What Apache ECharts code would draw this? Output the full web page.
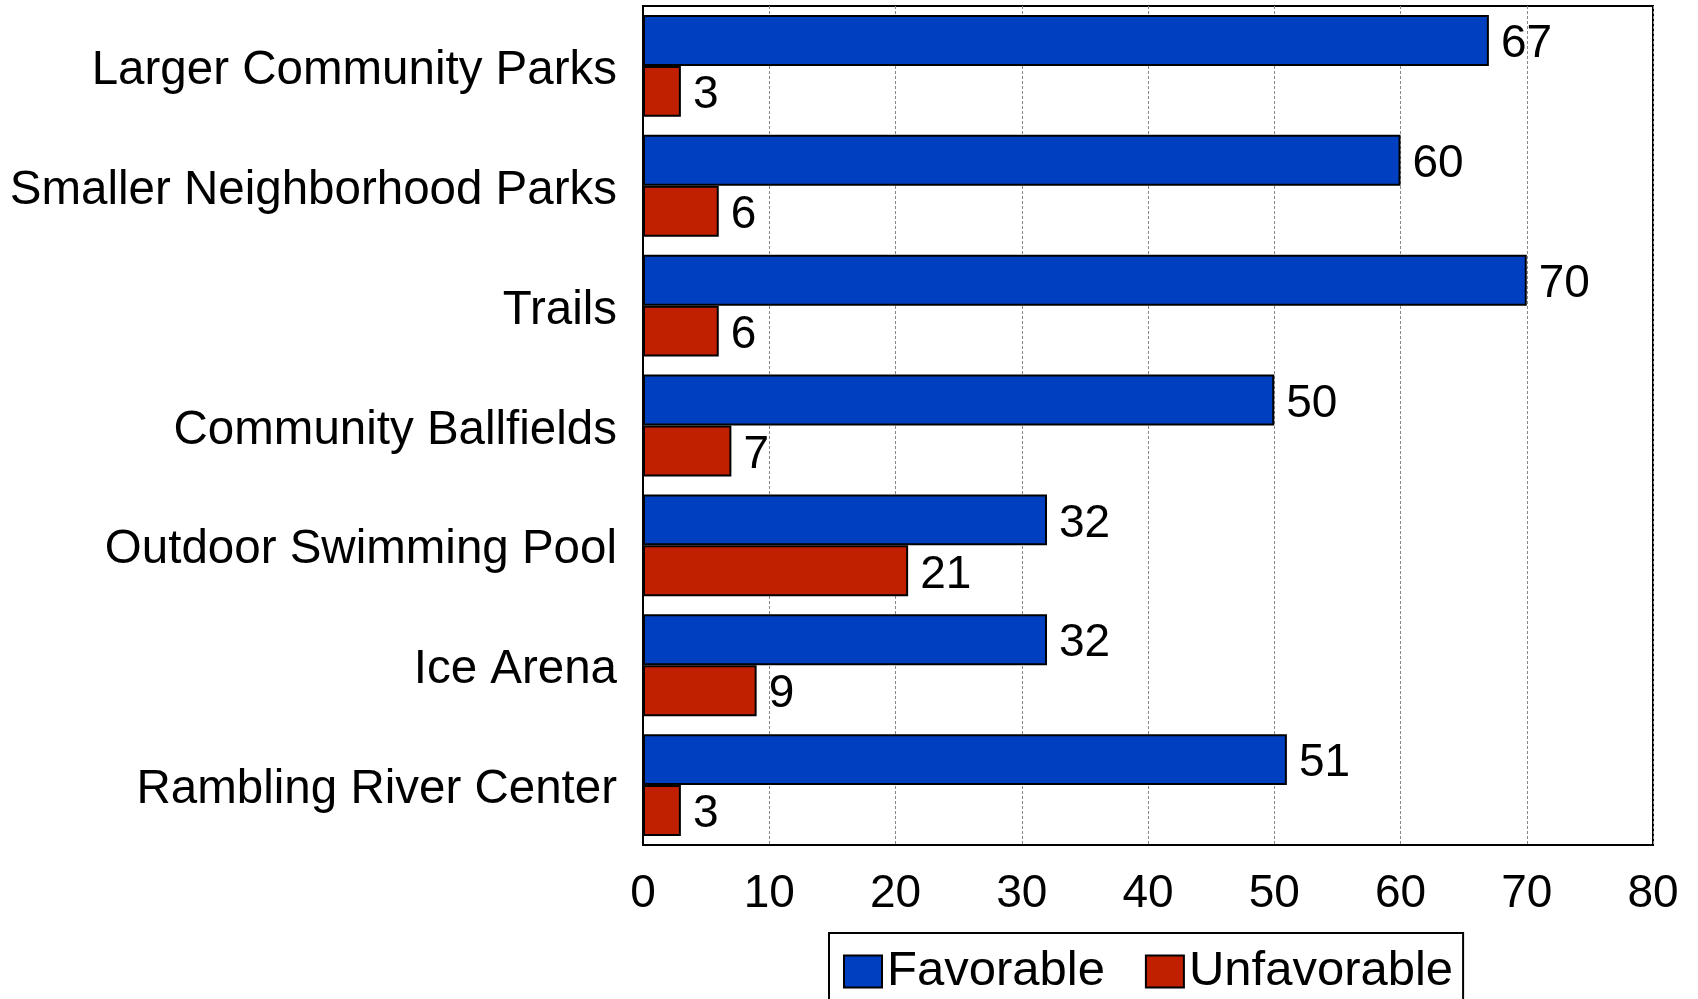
<!DOCTYPE html>
<html>
<head>
<meta charset="utf-8">
<script src="https://cdn.jsdelivr.net/npm/echarts@6/dist/echarts.min.js"></script>
<style>html,body{margin:0;padding:0;background:#fff}#c{width:1698px;height:999px}</style>
</head>
<body>
<div id="c"></div>
<script>
const categories = ["Larger Community Parks","Smaller Neighborhood Parks","Trails","Community Ballfields","Outdoor Swimming Pool","Ice Arena","Rambling River Center"];
const favorable = [67,60,70,50,32,32,51];
const unfavorable = [3,6,6,7,21,9,3];
const xTicks = [0,10,20,30,40,50,60,70,80];

const FONT = "'Liberation Sans', Arial, sans-serif";
const chart = echarts.init(document.getElementById('c'), null, {renderer:'canvas'});
chart.setOption({
  animation:false,
  backgroundColor:'#fff',
  textStyle:{fontFamily:FONT},
  grid:{left:643,right:45,top:6,bottom:154,show:true,borderColor:'#000',borderWidth:2,backgroundColor:'#fff',containLabel:false},
  legend:{
    left:829, top:933, orient:'horizontal',
    borderColor:'#000', borderWidth:2, padding:[14,10,30,14],
    icon:'rect',
    itemWidth:38, itemHeight:32, itemGap:40,
    itemStyle:{borderColor:'#000',borderWidth:2},
    textStyle:{fontSize:49,color:'#000',fontFamily:FONT,padding:[4,0,0,0]},
    data:['Favorable','Unfavorable']
  },
  xAxis:{
    type:'value', min:xTicks[0], max:xTicks[xTicks.length-1], interval:10,
    axisLine:{show:true,lineStyle:{color:'#000',width:2}},
    axisTick:{show:false},
    axisLabel:{fontSize:46,color:'#000',margin:26,fontFamily:FONT},
    splitLine:{show:true,lineStyle:{color:'#888',type:[3,2],width:1}}
  },
  yAxis:{
    type:'category', data:categories, inverse:true,
    axisLine:{show:true,lineStyle:{color:'#000',width:2}},
    axisTick:{show:false},
    axisLabel:{fontSize:47.5,color:'#000',margin:26,fontFamily:FONT,verticalAlign:'top',lineHeight:10}
  },
  series:[
    {name:'Favorable',type:'bar',data:favorable,barGap:'0%',barCategoryGap:'15%',
     itemStyle:{color:'#0040C0',borderColor:'#000',borderWidth:2},
     label:{show:true,position:'right',distance:12,offset:[0,4],fontSize:46,color:'#000',fontFamily:FONT}},
    {name:'Unfavorable',type:'bar',data:unfavorable,barGap:'0%',barCategoryGap:'15%',
     itemStyle:{color:'#C02000',borderColor:'#000',borderWidth:2},
     label:{show:true,position:'right',distance:12,offset:[0,4],fontSize:46,color:'#000',fontFamily:FONT}}
  ]
});
</script>
</body>
</html>
